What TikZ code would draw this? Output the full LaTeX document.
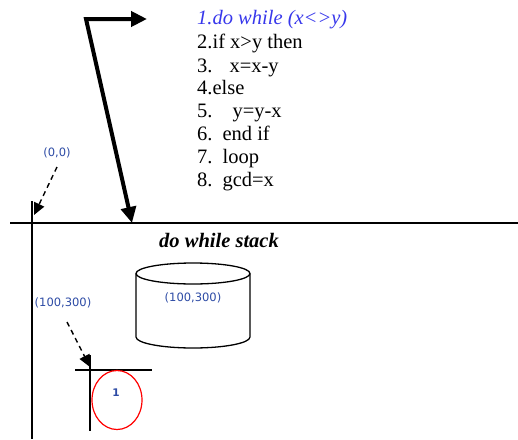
\documentclass[tikz,border=0pt]{standalone}
\usepackage{fontspec}
\setmainfont{Liberation Serif}
\newfontfamily\codefont{Liberation Serif}
\newfontfamily\lblfont{DejaVu Sans}
\usetikzlibrary{arrows.meta,shapes.geometric}
\definecolor{codeblue}{RGB}{55,55,235}
\definecolor{lblblue}{RGB}{45,75,165}
\begin{document}
\begin{tikzpicture}[x=1pt,y=-1pt,
  codeline/.style={anchor=base west, inner sep=0pt, font=\codefont\fontsize{20.5}{24}\selectfont},
  smalllbl/.style={inner sep=0pt, text=lblblue, font=\lblfont\fontsize{11.5}{13}\selectfont},
  axisline/.style={line width=1.4pt},
  bigarrow/.style={line width=4pt, line join=miter, {Triangle[length=16pt,width=15pt]}-{Triangle[length=16pt,width=15pt]}},
  dasharrow/.style={line width=1.4pt, dash pattern=on 5pt off 4pt, -{Triangle[length=12pt,width=11pt]}},
  cyl/.style={line width=1.3pt},
]
\useasboundingbox (0,0) rectangle (518,439);

% code lines
\node[codeline, text=codeblue, font=\codefont\itshape\fontsize{20.5}{24}\selectfont] (l1) at (197,24) {1.do while (x<>y)};
\node[codeline] (l2) at (197,48) {2.if x>y then};
\node[codeline] (l3) at (197,72) {3.\hspace{17pt}x=x-y};
\node[codeline] (l4) at (197,94) {4.else};
\node[codeline] (l5) at (197,117) {5.\hspace{20pt}y=y-x};
\node[codeline] (l6) at (197,140) {6.\hspace{10pt}end if};
\node[codeline] (l7) at (197,163) {7.\hspace{10pt}loop};
\node[codeline] (l8) at (197,186) {8.\hspace{10pt}gcd=x};

% bent double arrow
\coordinate (toptip) at (147,19);
\coordinate (corner) at (86,19);
\coordinate (downtip) at (132,223);
\draw[bigarrow] (toptip) -- (corner) -- (downtip);

% axes
\coordinate (hl) at (10,223);
\coordinate (hr) at (518,223);
\coordinate (vt) at (32,201);
\coordinate (vb) at (32,439);
\draw[axisline] (hl) -- (hr);
\draw[axisline] (vt) -- (vb);

% (0,0) label and dashed arrow
\node[smalllbl] (orig) at (57,153) {(0,0)};
\coordinate (origstart) at (57,167);
\coordinate (origtip) at (34,215);
\draw[dasharrow] (origstart) -- (origtip);

% stack title
\node[inner sep=0pt, font=\codefont\bfseries\itshape\fontsize{20.5}{24}\selectfont] (title) at (219,240) {do while stack};

% cylinder
\draw[cyl] (193,273.5) ellipse [x radius=57, y radius=10.5];
\draw[cyl] (136,273.5) -- (136,337) arc[start angle=180, end angle=0, x radius=57, y radius=11] -- (250,273.5);
\node[smalllbl] (cyllbl) at (193,298) {(100,300)};

% second label and dashed arrow
\node[smalllbl] (lbl2) at (63,303) {(100,300)};
\coordinate (l2start) at (67,322);
\coordinate (l2tip) at (90,367);
\draw[dasharrow] (l2start) -- (l2tip);

% small axes
\coordinate (sh1) at (75,370);
\coordinate (sh2) at (152,370);
\coordinate (sv1) at (90,355);
\coordinate (sv2) at (90,431);
\draw[line width=1.3pt] (sh1) -- (sh2);
\draw[line width=1.3pt] (sv1) -- (sv2);

% red ellipse
\node[draw=red, line width=1.2pt, ellipse, minimum width=50pt, minimum height=59pt, inner sep=0pt] (circ) at (117,400) {};
\node[smalllbl, font=\lblfont\bfseries\fontsize{10.5}{12}\selectfont] (one) at (116,393) {1};
\end{tikzpicture}
\end{document}
